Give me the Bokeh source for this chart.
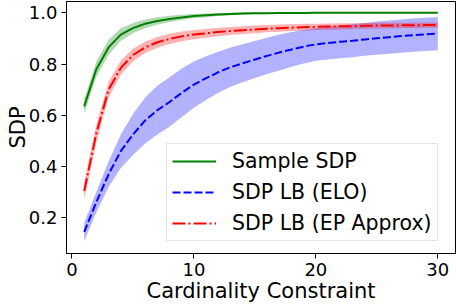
from bokeh.plotting import figure
from bokeh.models import Legend, LegendItem, FixedTicker, PrintfTickFormatter, Range1d
from bokeh.embed import file_html
from bokeh.resources import INLINE

cardinality = list(range(1, 31))

sample_mean = [0.635, 0.78, 0.865, 0.915, 0.94, 0.957, 0.968, 0.976, 0.982, 0.987,
               0.990, 0.993, 0.995, 0.997, 0.998, 0.998, 0.999, 0.999, 0.999, 1.0,
               1.0, 1.0, 1.0, 1.0, 1.0, 1.0, 1.0, 1.0, 1.0, 1.0]
sample_std = [0.03, 0.03, 0.03, 0.025, 0.02, 0.017, 0.015, 0.012, 0.01, 0.008,
              0.007, 0.006, 0.005, 0.005, 0.004, 0.004, 0.003, 0.003, 0.003, 0.002,
              0.002, 0.002, 0.002, 0.002, 0.002, 0.001, 0.001, 0.001, 0.001, 0.001]

elo_mean = [0.145, 0.262, 0.37, 0.46, 0.525, 0.58, 0.62, 0.652, 0.688, 0.72,
            0.745, 0.768, 0.788, 0.803, 0.818, 0.832, 0.845, 0.857, 0.868, 0.877,
            0.882, 0.887, 0.891, 0.896, 0.901, 0.905, 0.909, 0.913, 0.916, 0.919]
elo_std = [0.035, 0.04, 0.05, 0.065, 0.08, 0.09, 0.095, 0.097, 0.095, 0.09,
           0.085, 0.08, 0.077, 0.074, 0.072, 0.071, 0.07, 0.068, 0.066, 0.064,
           0.064, 0.064, 0.064, 0.064, 0.065, 0.065, 0.065, 0.065, 0.065, 0.065]

ep_mean = [0.305, 0.53, 0.70, 0.785, 0.835, 0.865, 0.885, 0.898, 0.908, 0.915,
           0.92, 0.925, 0.929, 0.932, 0.935, 0.938, 0.94, 0.942, 0.944, 0.945,
           0.946, 0.947, 0.948, 0.949, 0.95, 0.95, 0.951, 0.951, 0.952, 0.952]
ep_std = [0.035, 0.035, 0.03, 0.028, 0.025, 0.022, 0.021, 0.02, 0.019, 0.018,
          0.017, 0.017, 0.016, 0.015, 0.015, 0.014, 0.014, 0.013, 0.013, 0.012,
          0.012, 0.012, 0.011, 0.011, 0.011, 0.011, 0.01, 0.01, 0.01, 0.01]

x_ticks = [0, 10, 20, 30]
y_ticks = [0.2, 0.4, 0.6, 0.8, 1.0]

FONT = "DejaVu Sans"

p = figure(width=456, height=306, output_backend="svg", toolbar_location=None,
           x_range=Range1d(-0.45, 31.45), y_range=Range1d(0.061, 1.044))
p.min_border_left = 66
p.min_border_right = 1
p.min_border_top = 1
p.min_border_bottom = 53
p.outline_line_color = "black"
p.outline_line_width = 1
p.outline_line_alpha = 1
p.xgrid.visible = False
p.ygrid.visible = False
p.background_fill_color = "white"
p.border_fill_color = "white"

def lo(m, s):
    return [a - b for a, b in zip(m, s)]

def hi(m, s):
    return [a + b for a, b in zip(m, s)]

p.varea(x=cardinality, y1=lo(sample_mean, sample_std), y2=hi(sample_mean, sample_std),
        fill_color="green", fill_alpha=0.3)
p.varea(x=cardinality, y1=lo(elo_mean, elo_std), y2=hi(elo_mean, elo_std),
        fill_color="blue", fill_alpha=0.3)
p.varea(x=cardinality, y1=lo(ep_mean, ep_std), y2=hi(ep_mean, ep_std),
        fill_color="red", fill_alpha=0.3)

r_s = p.line(cardinality, sample_mean, line_color="green", line_width=2)
r_e = p.line(cardinality, elo_mean, line_color="blue", line_width=2, line_dash="8 3")
r_p = p.line(cardinality, ep_mean, line_color="red", line_width=2, line_dash="13 3 2 3")

for ax in (p.xaxis[0], p.yaxis[0]):
    ax.major_label_text_font = FONT
    ax.major_label_text_font_size = "18px"
    ax.major_label_text_color = "black"
    ax.axis_label_text_font = FONT
    ax.axis_label_text_font_size = "21px"
    ax.axis_label_text_font_style = "normal"
    ax.axis_label_text_color = "black"
    ax.minor_tick_line_color = None
    ax.major_tick_in = 0
    ax.major_tick_out = 5
    ax.major_tick_line_color = "black"
    ax.axis_line_color = "black"
    ax.major_label_standoff = 4

p.xaxis[0].ticker = FixedTicker(ticks=x_ticks)
p.yaxis[0].ticker = FixedTicker(ticks=y_ticks)
p.yaxis[0].formatter = PrintfTickFormatter(format="%.1f")
p.xaxis[0].axis_label = "Cardinality Constraint"
p.yaxis[0].axis_label = "SDP"
p.xaxis[0].axis_label_standoff = 0
p.yaxis[0].axis_label_standoff = -4
p.xaxis[0].major_label_standoff = 4

legend = Legend(items=[
    LegendItem(label="Sample SDP", renderers=[r_s]),
    LegendItem(label="SDP LB (ELO)", renderers=[r_e]),
    LegendItem(label="SDP LB (EP Approx)", renderers=[r_p]),
], location=(100, 12))
legend.label_text_font = FONT
legend.label_text_font_size = "20.5px"
legend.label_text_color = "black"
legend.glyph_width = 44
legend.glyph_height = 24
legend.label_height = 24
legend.label_standoff = 16
legend.spacing = 7
legend.padding = 5
legend.margin = 0
legend.border_line_color = "#cccccc"
legend.border_line_width = 1
legend.background_fill_alpha = 0.8
p.add_layout(legend, "center")

open("out.html", "w").write(file_html(p, INLINE))
